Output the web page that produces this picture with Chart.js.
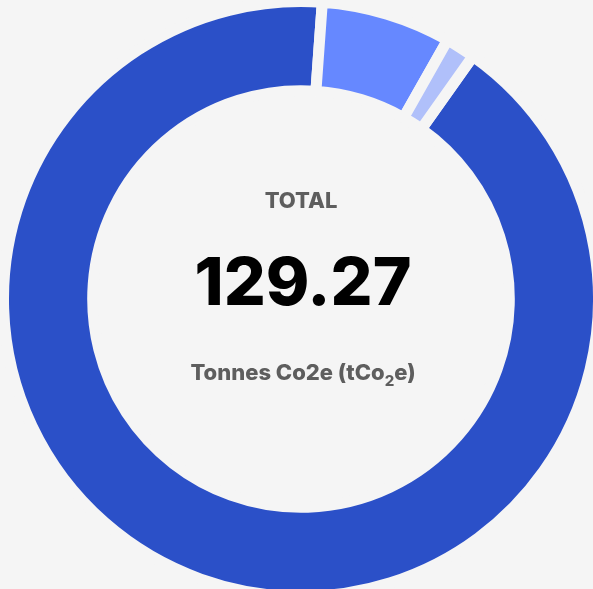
<!DOCTYPE html>
<html>
<head>
<meta charset="utf-8">
<script src="https://cdn.jsdelivr.net/npm/chart.js@4"></script>
<style>
html,body{margin:0;padding:0;background:#f5f5f5;overflow:hidden;}
#wrap{position:absolute;left:0;top:0;width:602px;height:598px;}
</style>
</head>
<body>
<div id="wrap"><canvas id="chart"></canvas></div>
<script>
// data
let labels = ["Scope 3", "Scope 2", "Scope 1"]
let values = [118.07, 9.12, 2.08]
let colors = ["#2b50c8", "#6688ff", "#b0c0fa"]
let totalText = "129.27"

let FONT = "Inter, sans-serif"

// center text
let centerText = {
id:"centerText",
afterDraw(chart){
let ctx = chart.ctx
let meta = chart.getDatasetMeta(0).data[0]
let cx = meta.x
ctx.save()
ctx.textAlign = "left"
ctx.textBaseline = "alphabetic"

ctx.fillStyle = "#5e5e5e"
ctx.font = "800 22px " + FONT
let w = ctx.measureText("TOTAL").width
ctx.fillText("TOTAL", cx - w/2, 208)

ctx.fillStyle = "#000"
ctx.font = "800 66px " + FONT
w = ctx.measureText(totalText).width
ctx.fillText(totalText, cx + 2 - w/2, 305)

// unit line with subscript
ctx.fillStyle = "#5e5e5e"
let a = "Tonnes Co2e (tCo", b = "2", c = "e)"
ctx.font = "800 22px " + FONT
let wa = ctx.measureText(a).width, wc = ctx.measureText(c).width
ctx.font = "800 15px " + FONT
let wb = ctx.measureText(b).width
let x = cx + 2 - (wa + wb + wc)/2
ctx.font = "800 22px " + FONT
ctx.fillText(a, x, 380)
ctx.font = "800 15px " + FONT
ctx.fillText(b, x + wa, 386)
ctx.font = "800 22px " + FONT
ctx.fillText(c, x + wa + wb, 380)
ctx.restore()
}
}

new Chart(document.getElementById("chart"),{
type:"doughnut",
data:{
labels:labels,
datasets:[{
data:values,
backgroundColor:colors,
borderColor:"#f5f5f5",
borderWidth:11,
hoverOffset:0
}]
},
options:{
responsive:true,
maintainAspectRatio:false,
animation:false,
rotation:35.3,
radius:297.5,
cutout:205.5,
layout:{padding:0},
plugins:{legend:{display:false},tooltip:{enabled:false}}
},
plugins:[centerText]
})
</script>
</body>
</html>
